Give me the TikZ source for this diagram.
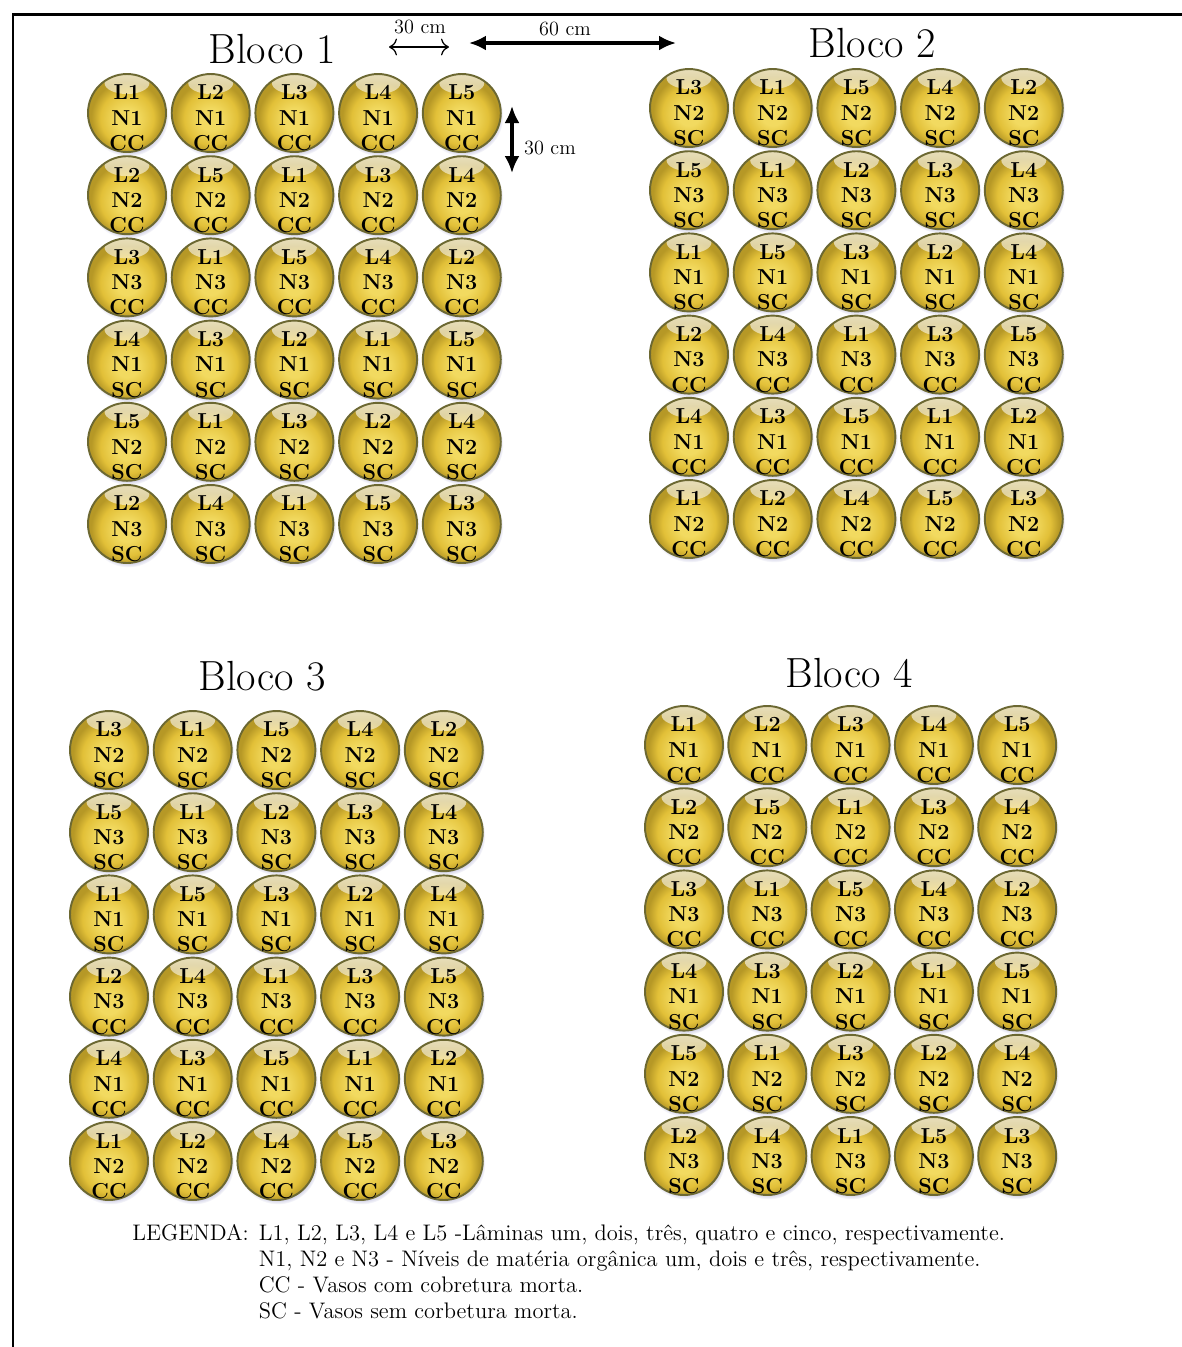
\documentclass[tikz,border=0pt]{standalone}
\usepackage{tikz}
\usetikzlibrary{arrows.meta,positioning,shadows,fadings}

\definecolor{potlight}{RGB}{242,218,96}
\definecolor{potmid}{RGB}{226,192,56}
\definecolor{potedge}{RGB}{182,152,38}
\definecolor{potrim}{RGB}{108,104,50}

\pgfdeclareradialshading{potshade}{\pgfqpoint{0bp}{-5bp}}{color(0bp)=(potlight); color(7bp)=(potlight); color(17bp)=(potmid); color(23bp)=(potedge); color(25bp)=(potedge); color(50bp)=(potedge)}

\newcommand{\potfont}{\fontsize{12.3}{14.4}\selectfont\bfseries}
% sorteio das linhas: linha/nivel/cobertura/{laminas}
\newcommand{\sorteioA}{1/1/CC/{1,2,3,4,5}, 2/2/CC/{2,5,1,3,4}, 3/3/CC/{3,1,5,4,2},
  4/1/SC/{4,3,2,1,5}, 5/2/SC/{5,1,3,2,4}, 6/3/SC/{2,4,1,5,3}}
\newcommand{\sorteioB}{1/2/SC/{3,1,5,4,2}, 2/3/SC/{5,1,2,3,4}, 3/1/SC/{1,5,3,2,4},
  4/3/CC/{2,4,1,3,5}, 5/1/CC/{4,3,5,1,2}, 6/2/CC/{1,2,4,5,3}}

\begin{document}
\begin{tikzpicture}[
    x=0.02cm, y=-0.02cm,
    pot/.style={circle, draw=potrim, line width=1.1pt, minimum size=1.56cm, inner sep=0pt,
        shading=potshade,
        circular drop shadow={shadow scale=1.03, shadow xshift=0.8pt, shadow yshift=-1.8pt, fill=gray!70!blue, opacity=0.35},
        path picture={\fill[white, path fading=south, fill opacity=0.7]
            ([yshift=-0.18cm]path picture bounding box.north) ellipse [x radius=0.45cm, y radius=0.22cm];}},
    potlabel/.style={align=center, inner sep=0pt, yshift=-0.1cm, font=\potfont},
    titulo/.style={font=\fontsize{24}{28}\selectfont, anchor=base},
    medida/.style={font=\fontsize{11.5}{13}\selectfont, inner sep=1pt},
    seta/.style={{Latex[length=3.4mm, width=3mm]}-{Latex[length=3.4mm, width=3mm]}, line width=1.8pt},
    setafina/.style={{To[length=1.6mm]}-{To[length=1.6mm]}, line width=0.7pt},
    moldura/.style={line width=1.7pt},
    legenda/.style={font=\fontsize{12.8}{14.8}\selectfont, anchor=north west, inner sep=0pt}
]
\useasboundingbox (0,0) rectangle (1182,1347);

% Moldura
\coordinate (mb) at (13,1347);
\coordinate (mt) at (13,14);
\coordinate (mr) at (1182,14);
\draw[moldura] (mb) -- (mt) -- (mr);

% Bloco 1
\node[titulo] (bloco1) at (272,63) {Bloco 1};
\foreach \row/\niv/\cob/\lams in \sorteioA
  \foreach \lam [count=\col] in \lams
    \node[pot, label={[potlabel]center:L\lam\\N\niv\\\cob}] (b1-\row-\col)
      at ({127+83.7*(\col-1)}, {113+82.2*(\row-1)}) {};

% Bloco 2
\node[titulo] (bloco2) at (872,57) {Bloco 2};
\foreach \row/\niv/\cob/\lams in \sorteioB
  \foreach \lam [count=\col] in \lams
    \node[pot, label={[potlabel]center:L\lam\\N\niv\\\cob}] (b2-\row-\col)
      at ({689+83.7*(\col-1)}, {108+82.2*(\row-1)}) {};

% Bloco 3
\node[titulo] (bloco3) at (262,690) {Bloco 3};
\foreach \row/\niv/\cob/\lams in \sorteioB
  \foreach \lam [count=\col] in \lams
    \node[pot, label={[potlabel]center:L\lam\\N\niv\\\cob}] (b3-\row-\col)
      at ({109+83.7*(\col-1)}, {750+82.2*(\row-1)}) {};

% Bloco 4
\node[titulo] (bloco4) at (849,687) {Bloco 4};
\foreach \row/\niv/\cob/\lams in \sorteioA
  \foreach \lam [count=\col] in \lams
    \node[pot, label={[potlabel]center:L\lam\\N\niv\\\cob}] (b4-\row-\col)
      at ({684+83.3*(\col-1)}, {745+82.2*(\row-1)}) {};

% Espacamentos
\coordinate (h30a) at (389,47);
\coordinate (h30b) at (449,47);
\draw[setafina] (h30a) -- (h30b);
\node[medida] (txt30h) at (420,27) {30 cm};
\coordinate (h60a) at (469,43);
\coordinate (h60b) at (676,43);
\draw[seta] (h60a) -- (h60b);
\node[medida] (txt60) at (565,29) {60 cm};
\coordinate (v30a) at (512,106);
\coordinate (v30b) at (512,173);
\draw[seta] (v30a) -- (v30b);
\node[medida, anchor=west] (txt30v) at (522,148) {30 cm};

% Legenda
\node[legenda] (leg) at (132,1222) {\begin{tabular}{@{}l@{\hspace{0.45em}}l@{}}
LEGENDA: & L1, L2, L3, L4 e L5 -Lâminas um, dois, três, quatro e cinco, respectivamente.\\
 & N1, N2 e N3 - Níveis de matéria orgânica um, dois e três, respectivamente.\\
 & CC - Vasos com cobretura morta.\\
 & SC - Vasos sem corbetura morta.
\end{tabular}};

\end{tikzpicture}
\end{document}
